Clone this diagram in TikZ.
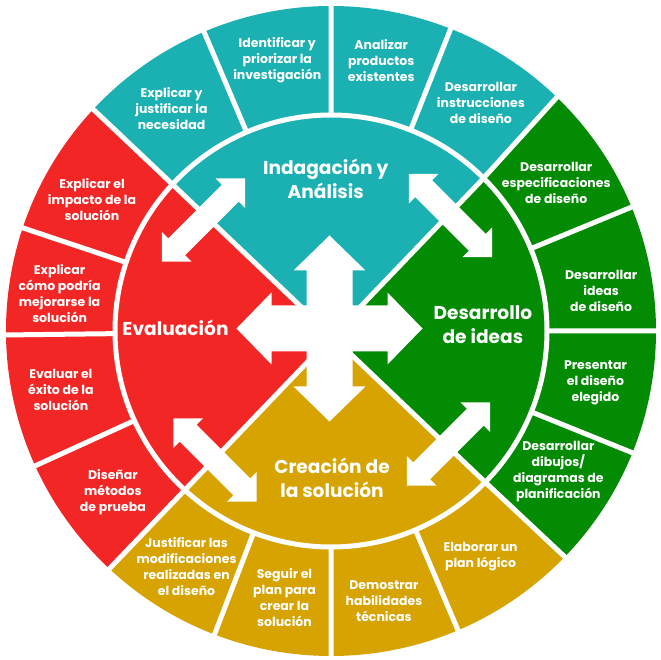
\documentclass[tikz,border=0pt]{standalone}
\usepackage{fontspec}
\setmainfont{Poppins}
\usetikzlibrary{positioning,calc}

\definecolor{indteal}{RGB}{27,177,178}
\definecolor{desgreen}{RGB}{4,139,4}
\definecolor{cregold}{RGB}{214,163,0}
\definecolor{evared}{RGB}{243,38,38}

\begin{document}
\begin{tikzpicture}[x=1pt,y=1pt,
    step label/.style={text=white,align=center,font=\fontsize{12.5}{16}\selectfont\bfseries},
    phase label/.style={text=white,align=center,font=\fontsize{18.6}{24}\selectfont\bfseries},
    gap/.style={white,line width=5pt}]
    \fill[white] (-331,-329) rectangle (329,331);
    \useasboundingbox (-331,-329) rectangle (329,331);
    \coordinate (c) at (0,0);
    \coordinate (x) at (1,-5);
    \coordinate (ne) at (149,149);
    \coordinate (nw) at (-161,149);
    \coordinate (sw) at (-149,-162);
    \coordinate (se) at (154,-151);

    % four coloured quarters
    \fill[indteal] (x) -- (ne) -- (46:325) arc[start angle=46,end angle=137,radius=325] -- (nw) -- cycle;
    \fill[evared] (x) -- (nw) -- (137:325) arc[start angle=137,end angle=227,radius=325] -- (sw) -- cycle;
    \fill[cregold] (x) -- (sw) -- (227:325) arc[start angle=227,end angle=316,radius=325] -- (se) -- cycle;
    \fill[desgreen] (x) -- (se) -- (316:325) arc[start angle=316,end angle=406,radius=325] -- (ne) -- cycle;

    % white gaps
    \draw[gap] (c) circle[radius=216];
    \draw[gap] (nw) -- (se) (ne) -- (sw)
        (ne) -- (46:330) (nw) -- (137:330) (sw) -- (227:330) (se) -- (316:330);
    \draw[gap]
        (0:214) -- (0:330) (22.4:214) -- (22.4:330) (68.4:214) -- (68.4:330)
        (90:214) -- (90:330) (113:214) -- (113:330) (161.5:214) -- (161.5:330)
        (180.7:214) -- (180.7:330) (204.5:214) -- (204.5:330) (249:214) -- (249:330)
        (270:214) -- (270:330) (293:214) -- (293:330) (338:214) -- (338:330);

    % arrows
    \fill[white,shift={(-1.5,2.5)}]
        (93,0) -- (58,36) -- (58,23) -- (23,23) -- (23,58) -- (36,58) -- (0,93)
        -- (-36,58) -- (-23,58) -- (-23,23) -- (-58,23) -- (-58,36) -- (-93,0)
        -- (-58,-36) -- (-58,-23) -- (-23,-23) -- (-23,-58) -- (-36,-58) -- (0,-93)
        -- (36,-58) -- (23,-58) -- (23,-23) -- (58,-23) -- (58,-36) -- cycle;
    \fill[white,shift={(119.5,115.5)},rotate=-45] (59,0) -- (38,21) -- (38,12) -- (-38,12) -- (-38,21) -- (-59,0) -- (-38,-21) -- (-38,-12) -- (38,-12) -- (38,-21) -- cycle;
    \fill[white,shift={(-127.5,111)},rotate=45] (59,0) -- (38,21) -- (38,12) -- (-38,12) -- (-38,21) -- (-59,0) -- (-38,-21) -- (-38,-12) -- (38,-12) -- (38,-21) -- cycle;
    \fill[white,shift={(117.5,-113)},rotate=45] (59,0) -- (38,21) -- (38,12) -- (-38,12) -- (-38,21) -- (-59,0) -- (-38,-21) -- (-38,-12) -- (38,-12) -- (38,-21) -- cycle;
    \fill[white,shift={(-116,-129)},rotate=-45] (59,0) -- (38,21) -- (38,12) -- (-38,12) -- (-38,21) -- (-59,0) -- (-38,-21) -- (-38,-12) -- (38,-12) -- (38,-21) -- cycle;

    % phases
    \path (c) ++(92:152) node[phase label] (indag) {Indagación y\\Análisis};
    \path (c) ++(2.3:152) node[phase label] (desar) {Desarrollo\\de ideas};
    \path (c) ++(-89.6:146.5) node[phase label] (creac) {Creación de\\la solución};
    \path (c) ++(178.9:155.5) node[phase label] (evalu) {Evaluación};

    % steps
    \path (c) ++(125.6:274) node[step label] (necesidad) {Explicar y\\justificar la\\necesidad};
    \path (c) ++(101.2:276.5) node[step label] (investig) {Identificar y\\priorizar la\\investigación};
    \path (c) ++(79.5:275.5) node[step label] (productos) {Analizar\\productos\\existentes};
    \path (c) ++(56.7:273) node[step label] (instruc) {Desarrollar\\instrucciones\\de diseño};

    \path (c) ++(33.3:269.5) node[step label] (especif) {Desarrollar\\especificaciones\\de diseño};
    \path (c) ++(8.4:273) node[step label] (ideas) {Desarrollar\\ideas\\de diseño};
    \path (c) ++(-11.1:269.5) node[step label] (elegido) {Presentar\\el diseño\\elegido};
    \path (c) ++(-31.8:267.5) node[step label] (dibujos) {Desarrollar\\dibujos/\\diagramas de\\planificación};

    \path (c) ++(-56.5:271) node[step label] (plan) {Elaborar un\\plan lógico};
    \path (c) ++(-78.9:275) node[step label] (habil) {Demostrar\\habilidades\\técnicas};
    \path (c) ++(-99.9:270.5) node[step label] (seguir) {Seguir el\\plan para\\crear la\\solución};
    \path (c) ++(-121.5:276.5) node[step label] (modif) {Justificar las\\modificaciones\\realizadas en\\el diseño};

    \path (c) ++(-143.6:271) node[step label] (prueba) {Diseñar\\métodos\\de prueba};
    \path (c) ++(-167.7:276.5) node[step label] (exito) {Evaluar el\\éxito de la\\solución};
    \path (c) ++(172.1:274) node[step label] (mejora) {Explicar\\cómo podría\\mejorarse la\\solución};
    \path (c) ++(151.1:273) node[step label] (impacto) {Explicar el\\impacto de la\\solución};
\end{tikzpicture}
\end{document}
